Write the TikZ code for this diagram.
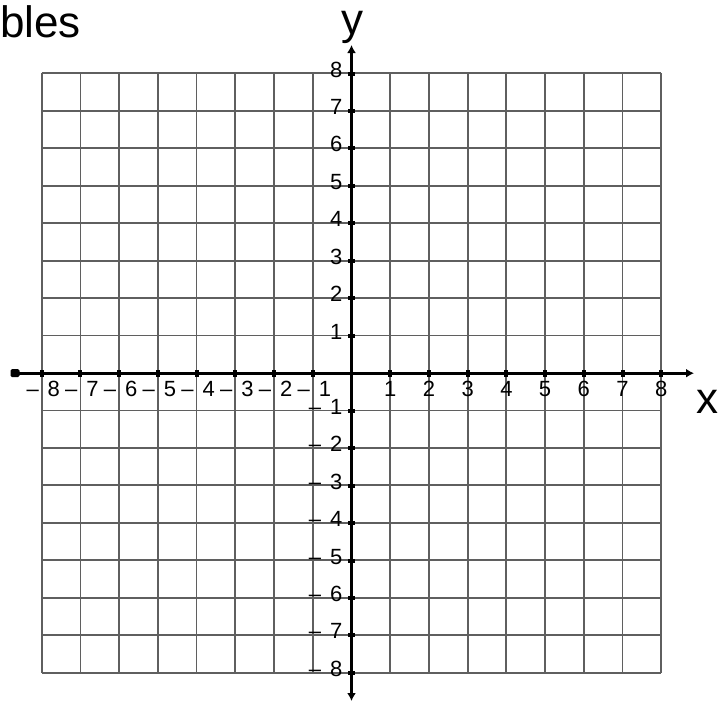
\documentclass[tikz,border=0pt]{standalone}
\usepackage{fontspec}
\setmainfont{Liberation Sans}
\usetikzlibrary{arrows.meta,calc}
\begin{document}
\begin{tikzpicture}[x=1pt,y=-1pt,
  gridline/.style={line width=1.8pt, draw={rgb,255:red,95;green,95;blue,95}},
  axisline/.style={line width=3pt, draw=black},
  axtip/.style={-{Latex[length=8pt,width=9pt]}},
  tickmark/.style={fill=black},
  ticklbl/.style={font=\fontsize{22}{22}\selectfont, inner sep=0pt, text=black},
  biglbl/.style={font=\fontsize{44}{44}\selectfont, inner sep=0pt, text=black}]
\useasboundingbox (0,0) rectangle (722,702);
% grid
\foreach \i in {0,...,16} {
  \pgfmathsetmacro{\gx}{41.7+\i*38.72}
  \pgfmathsetmacro{\gy}{73.3+\i*37.46}
  \draw[gridline] (\gx,73.3) -- (\gx,672.7);
  \draw[gridline] (41.7,\gy) -- (661.2,\gy);
}
% axes
\coordinate (xl) at (15,373.2);
\coordinate (xr) at (694,373.2);
\coordinate (yt) at (351.5,45);
\coordinate (yb) at (351.5,701);
\draw[axisline,axtip] (xl) -- (xr);
\draw[axisline,{Latex[length=8pt,width=9pt]}-{Latex[length=8pt,width=9pt]}] (yb) -- (yt);
\fill[black, rounded corners=1.5pt] ($(xl)+(-4.5,-4)$) rectangle ($(xl)+(4.5,4)$);
% ticks and labels
\foreach \i in {1,...,8} {
  \pgfmathsetmacro{\px}{351.5+\i*38.72}
  \pgfmathsetmacro{\nx}{351.5-\i*38.72}
  \pgfmathsetmacro{\py}{373.2-\i*37.46}
  \pgfmathsetmacro{\ny}{373.2+\i*37.46}
  \fill[tickmark] (\px-2,369.7) rectangle (\px+2,376.7);
  \fill[tickmark] (\nx-2,369.7) rectangle (\nx+2,376.7);
  \fill[tickmark] (348,\py-2) rectangle (355,\py+2);
  \fill[tickmark] (348,\ny-2) rectangle (355,\ny+2);
  \node[ticklbl, anchor=base] (xp\i) at (\px,396) {\i};
  \node[ticklbl, anchor=base] (xn\i) at (\nx+1.5,396) {–\kern9pt\i};
  \node[ticklbl, anchor=base east] (yp\i) at (342.5,\py+3.5) {\i};
  \node[ticklbl, anchor=base east] (yn\i) at (342.5,\ny+3.5) {–\kern9pt\i};
}
\node[biglbl, anchor=base] (ylab) at (352,34.5) {y};
\node[biglbl, anchor=base] (xlab) at (707.5,413) {x};
\node[biglbl, anchor=base west] (title) at (0,37) {bles};
\end{tikzpicture}
\end{document}
